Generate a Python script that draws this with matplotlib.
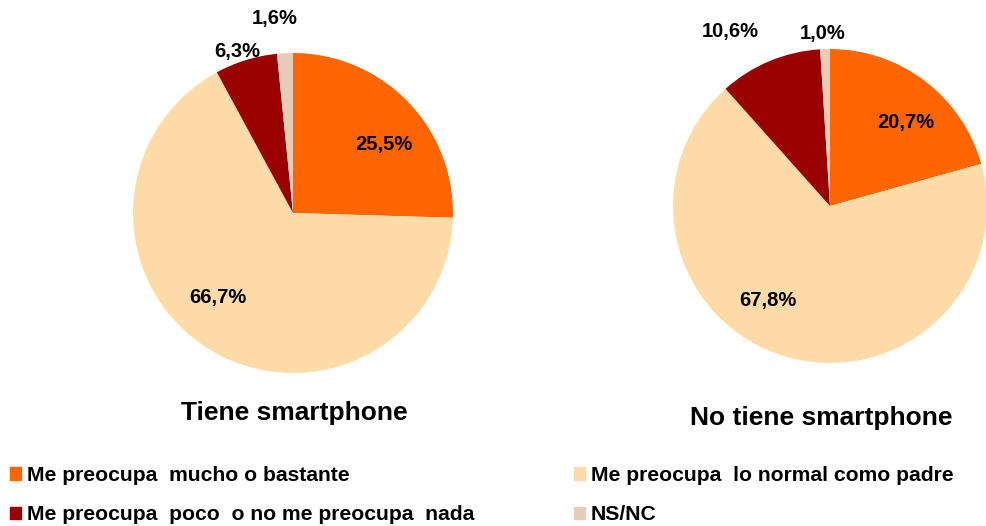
import numpy as np
import matplotlib.pyplot as plt
from matplotlib.patches import Patch

plt.rcParams['font.family'] = ['Liberation Sans', 'DejaVu Sans']

categorias = ['Me preocupa  mucho o bastante', 'Me preocupa  lo normal como padre',
              'Me preocupa  poco  o no me preocupa  nada', 'NS/NC']
colores = ['#FF6600', '#FFDBA8', '#990000', '#E8CCBA']

tiene = [25.5, 66.7, 6.3, 1.6]
no_tiene = [20.7, 67.8, 10.6, 1.0]
titulos = ['Tiene smartphone', 'No tiene smartphone']

# label placement (radius factor, angle shift in degrees), one per slice
pos_tiene = [(0.71, -7), (0.71, -10), (1.07, 2), (1.22, 2.5)]
pos_no_tiene = [(0.72, -5), (0.72, -17), (1.28, 7), (1.10, 0.5)]

W, H = 986, 526
fig = plt.figure(figsize=(W / 100, H / 100), dpi=100)

# pie centres / radius / title position in pixels
pies = [(293, 213, 160, tiene, pos_tiene, 294, 413),
        (830, 206, 157, no_tiene, pos_no_tiene, 821, 418)]

for (cx, cy, r, vals, pos, tx, ty), titulo in zip(pies, titulos):
    ax = fig.add_axes([(cx - r) / W, (H - cy - r) / H, 2 * r / W, 2 * r / H])
    wedges, _ = ax.pie(vals, colors=colores, startangle=90, counterclock=False,
                       radius=1)
    ax.set_xlim(-1, 1)
    ax.set_ylim(-1, 1)
    ax.set_aspect('equal')
    ax.axis('off')
    for w, v, (d, sh) in zip(wedges, vals, pos):
        ang = np.deg2rad((w.theta1 + w.theta2) / 2 + sh)
        ax.text(d * np.cos(ang), d * np.sin(ang), f'{v:.1f}%'.replace('.', ','),
                ha='center', va='center', fontsize=14.5, fontweight='bold',
                clip_on=False)
    fig.text(tx / W, 1 - ty / H, titulo, ha='center', va='center',
             fontsize=19, fontweight='bold')

# legend in two columns, placed separately
cols = [[0, 2], [1, 3]]
anchors = [10, 574]
for idx, x0 in zip(cols, anchors):
    leg = fig.legend([Patch(color=colores[i]) for i in idx], [categorias[i] for i in idx],
                     loc='upper left', bbox_to_anchor=(x0 / W, 1 - 466 / H),
                     frameon=False, borderpad=0, borderaxespad=0,
                     prop={'weight': 'bold', 'size': 15.2},
                     handlelength=0.5, handleheight=0.5, handletextpad=0.3,
                     labelspacing=0.95)

fig.savefig('out.png', dpi=100)
